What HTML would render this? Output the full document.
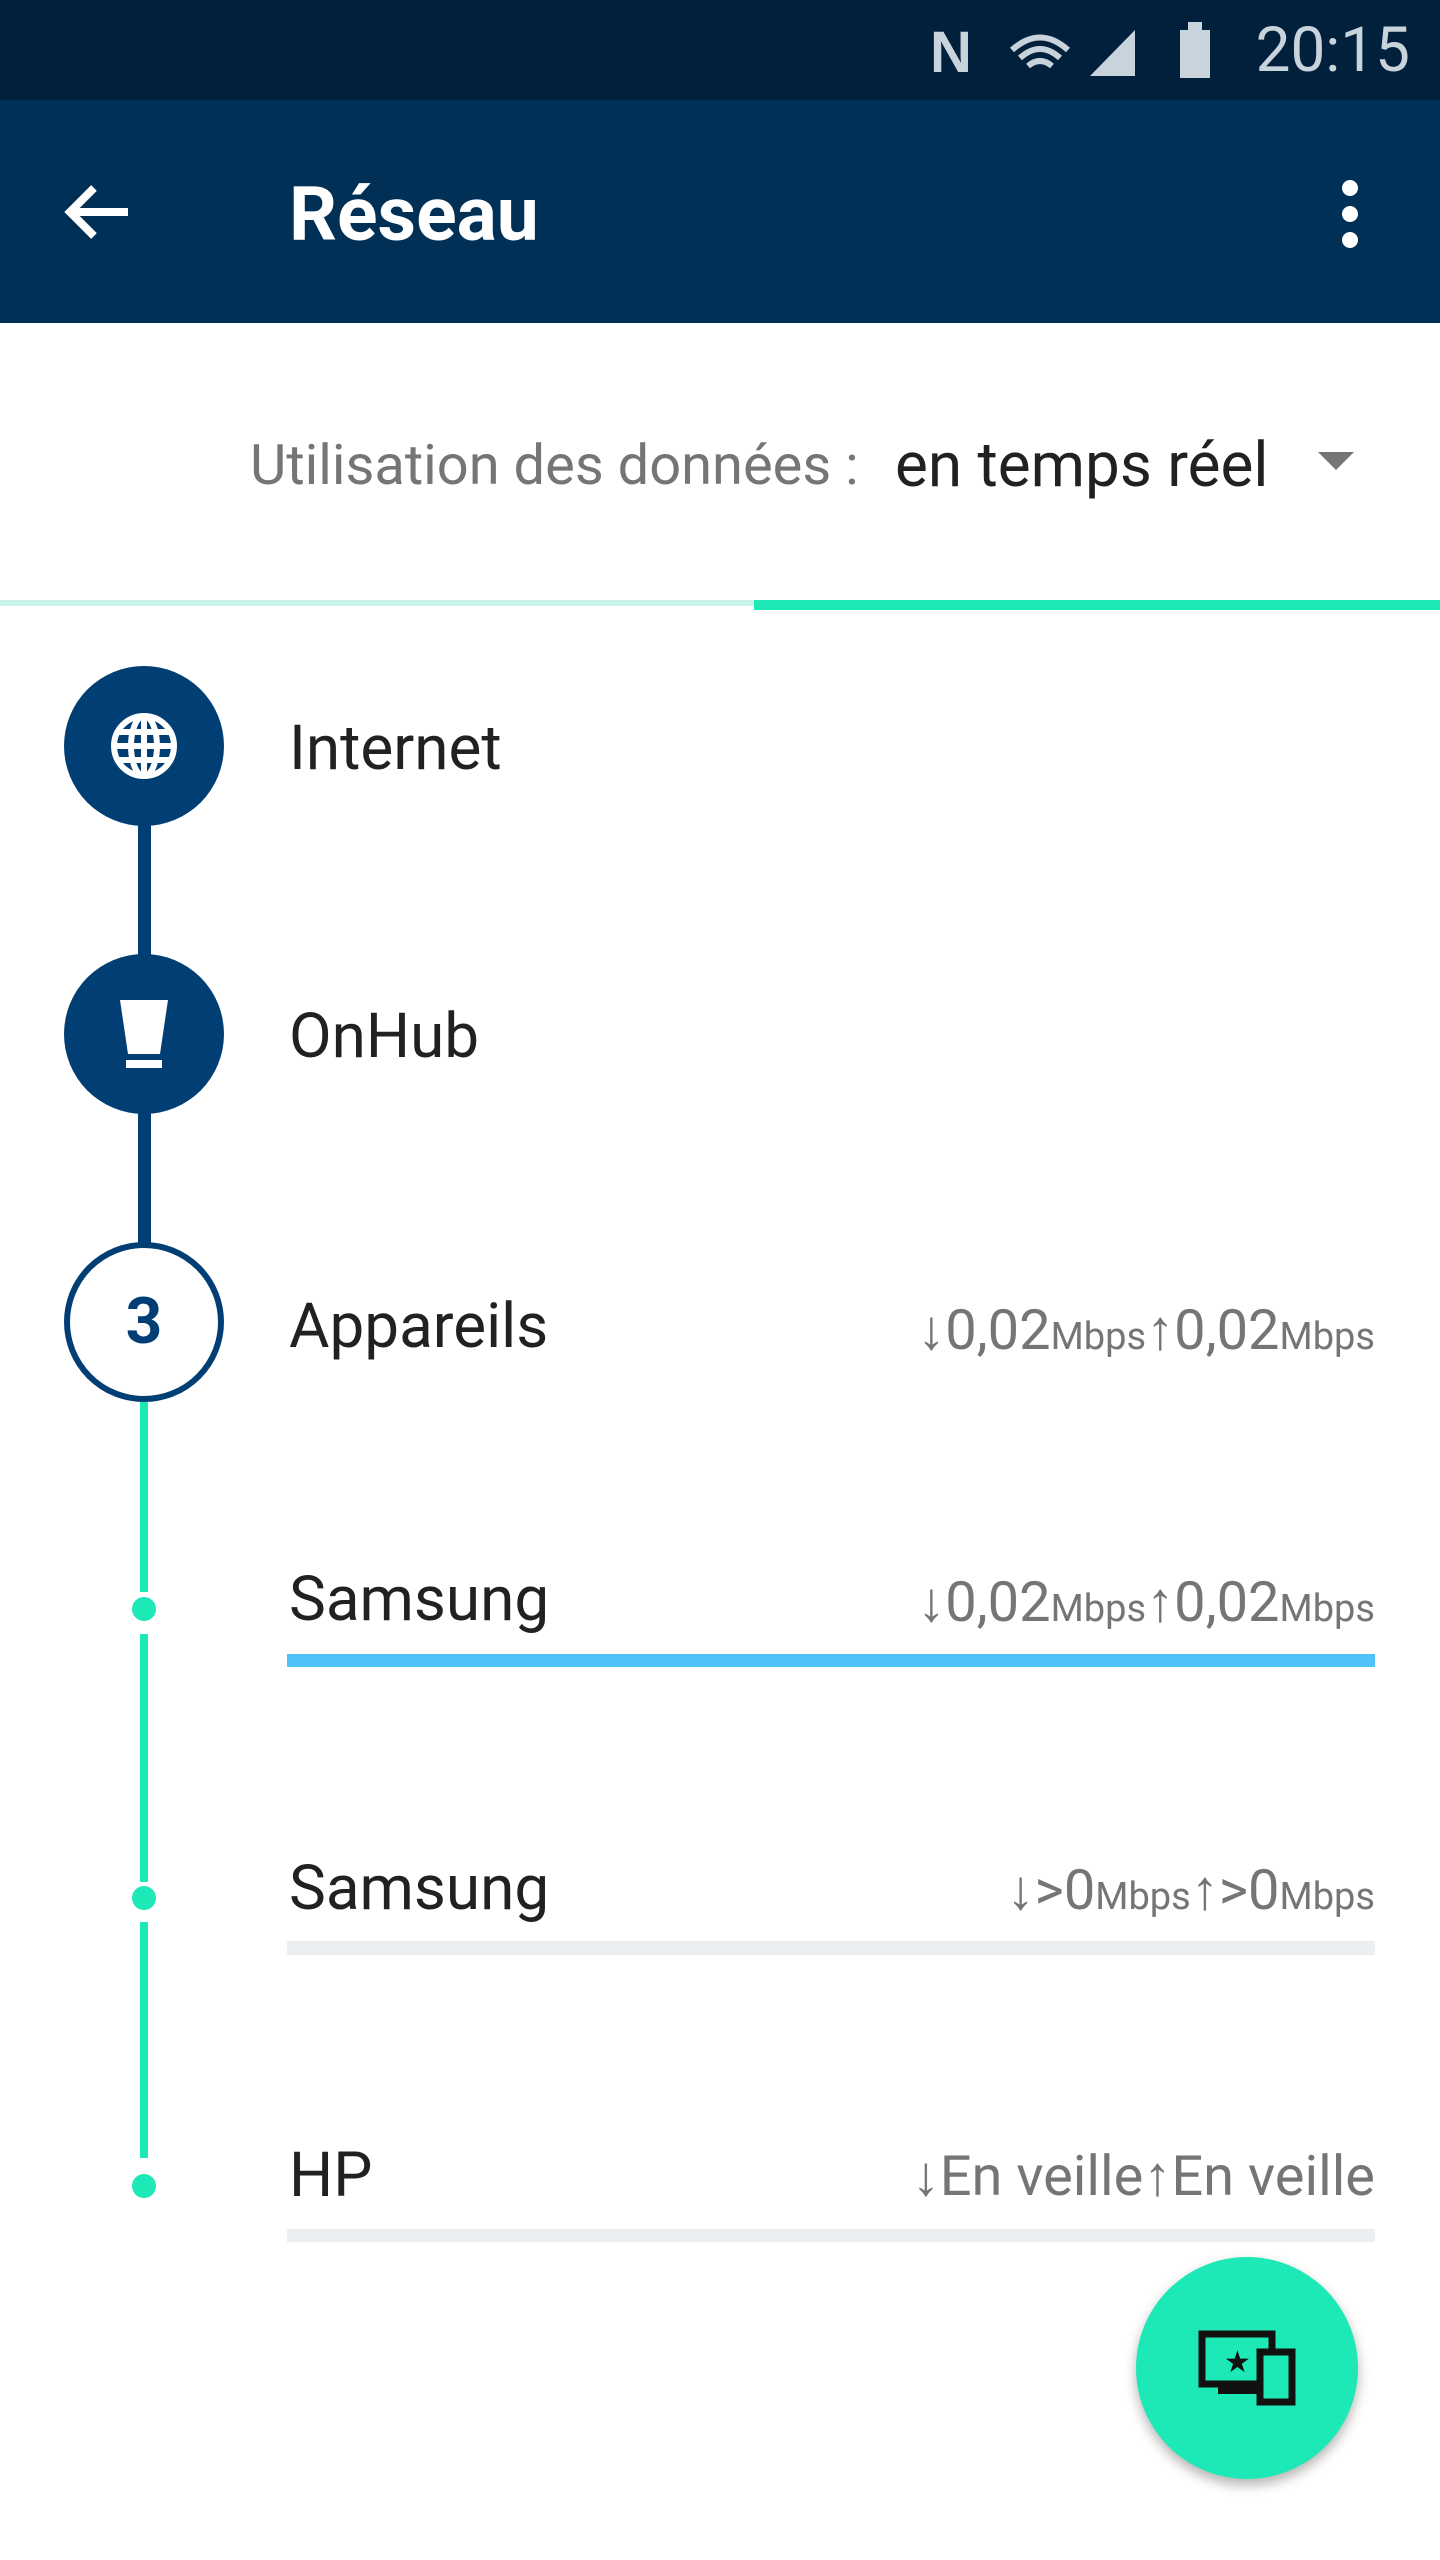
<!DOCTYPE html>
<html><head><meta charset="utf-8"><style>
*{margin:0;padding:0;box-sizing:border-box}
body{width:1440px;height:2560px;background:#fff;position:relative;overflow:hidden;font-family:"Roboto","Liberation Sans",sans-serif}
.abs{position:absolute}
.status{left:0;top:0;width:1440px;height:100px;background:#01203b}
.bar{left:0;top:100px;width:1440px;height:223px;background:#013057}
.lbl{font-size:62px;color:#212121;left:289px;line-height:1}
.rate{font-size:56px;color:#757575;right:65px;line-height:1;white-space:nowrap}
.rate small{font-size:38px}
.circ{width:160px;height:160px;border-radius:50%;left:64px;background:#013e74}
.dot{width:24px;height:24px;border-radius:50%;background:#1de9b6;left:132px}
</style></head><body>
<div class="abs status"></div>
<div class="abs" style="right:30px;top:20px;color:#c9d3dc;font-size:62px;line-height:1">20:15</div>
<div class="abs" style="left:1180px;top:30px;width:30px;height:48px;background:#c9d3dc"></div>
<div class="abs" style="left:1188px;top:22px;width:14px;height:10px;background:#c9d3dc"></div>
<svg class="abs" style="left:930px;top:20px" width="220" height="60"><text x="0" y="52" font-size="58" font-weight="bold" fill="#c9d3dc" font-family="Liberation Sans">N</text><path d="M82 30 Q110 5 138 30 M90 38 Q110 20 130 38 M98 46 Q110 36 122 46" stroke="#c9d3dc" stroke-width="6" fill="none"/><path d="M160 56 L205 10 L205 56Z" fill="#c9d3dc"/></svg>
<div class="abs bar"></div>
<svg class="abs" style="left:60px;top:180px" width="72" height="64"><path d="M68 32 H10 M34 8 L10 32 L34 56" stroke="#fff" stroke-width="8" fill="none"/></svg>
<div class="abs" style="left:289px;top:178px;color:#fff;font-size:75px;font-weight:bold;line-height:1">Réseau</div>
<div class="abs" style="left:1342px;top:180px;width:16px;height:16px;border-radius:50%;background:#fff;box-shadow:0 26px 0 #fff,0 52px 0 #fff"></div>
<div class="abs" style="left:250px;top:437px;font-size:56px;color:#757575;line-height:1">Utilisation des données :</div>
<div class="abs" style="left:895px;top:435px;font-size:62px;color:#212121;line-height:1">en temps réel</div>
<div class="abs" style="left:1318px;top:452px;border-left:18px solid transparent;border-right:18px solid transparent;border-top:18px solid #757575"></div>
<div class="abs" style="left:0;top:600px;width:754px;height:6px;background:#c7f3e8"></div>
<div class="abs" style="left:754px;top:600px;width:686px;height:10px;background:#1de9b6"></div>
<div class="abs" style="left:138px;top:746px;width:13px;height:576px;background:#013e74"></div>
<div class="abs" style="left:140px;top:1402px;width:8px;height:190px;background:#1de9b6"></div>
<div class="abs" style="left:140px;top:1634px;width:8px;height:248px;background:#1de9b6"></div>
<div class="abs" style="left:140px;top:1922px;width:8px;height:236px;background:#1de9b6"></div>
<div class="abs dot" style="top:1597px"></div>
<div class="abs dot" style="top:1886px"></div>
<div class="abs dot" style="top:2174px"></div>
<div class="abs circ" style="top:666px"></div>
<svg class="abs" style="left:108px;top:710px" width="72" height="72"><g stroke="#fff" stroke-width="6" fill="none"><circle cx="36" cy="36" r="30"/><ellipse cx="36" cy="36" rx="13" ry="30"/><path d="M6 36H66M10 22H62M10 50H62M36 6V66"/></g></svg>
<div class="abs circ" style="top:954px"></div>
<svg class="abs" style="left:116px;top:996px" width="56" height="76"><path d="M4 4H52L44 58H12Z" fill="#fff"/><rect x="10" y="64" width="36" height="8" fill="#fff"/></svg>
<div class="abs circ" style="top:1242px;background:#fff;border:6px solid #013e74"></div>
<div class="abs" style="left:64px;top:1290px;width:160px;text-align:center;font-size:64px;font-weight:bold;color:#013e74;line-height:1">3</div>
<div class="abs lbl" style="top:718px">Internet</div>
<div class="abs lbl" style="top:1006px">OnHub</div>
<div class="abs lbl" style="top:1296px">Appareils</div>
<div class="abs rate" style="top:1302px">↓0,02<small>Mbps</small>↑0,02<small>Mbps</small></div>
<div class="abs lbl" style="top:1569px">Samsung</div>
<div class="abs rate" style="top:1574px">↓0,02<small>Mbps</small>↑0,02<small>Mbps</small></div>
<div class="abs" style="left:287px;top:1654px;width:1088px;height:13px;background:#4fc3f7"></div>
<div class="abs lbl" style="top:1858px">Samsung</div>
<div class="abs rate" style="top:1862px">↓&gt;0<small>Mbps</small>↑&gt;0<small>Mbps</small></div>
<div class="abs" style="left:287px;top:1941px;width:1088px;height:14px;background:#eceff1"></div>
<div class="abs lbl" style="top:2145px">HP</div>
<div class="abs rate" style="top:2148px">↓En veille↑En veille</div>
<div class="abs" style="left:287px;top:2229px;width:1088px;height:13px;background:#eceff1"></div>
<div class="abs" style="left:1136px;top:2257px;width:222px;height:222px;border-radius:50%;background:#1de9b6;box-shadow:0 6px 12px rgba(0,0,0,.3)"></div>
<svg class="abs" style="left:1198px;top:2330px" width="100" height="76"><rect x="4" y="4" width="70" height="50" fill="none" stroke="#111" stroke-width="7"/><rect x="20" y="56" width="44" height="8" fill="#111"/><rect x="62" y="22" width="32" height="50" fill="#1de9b6" stroke="#111" stroke-width="7"/><text x="26" y="42" font-size="30" fill="#111">★</text></svg>
</body></html>
